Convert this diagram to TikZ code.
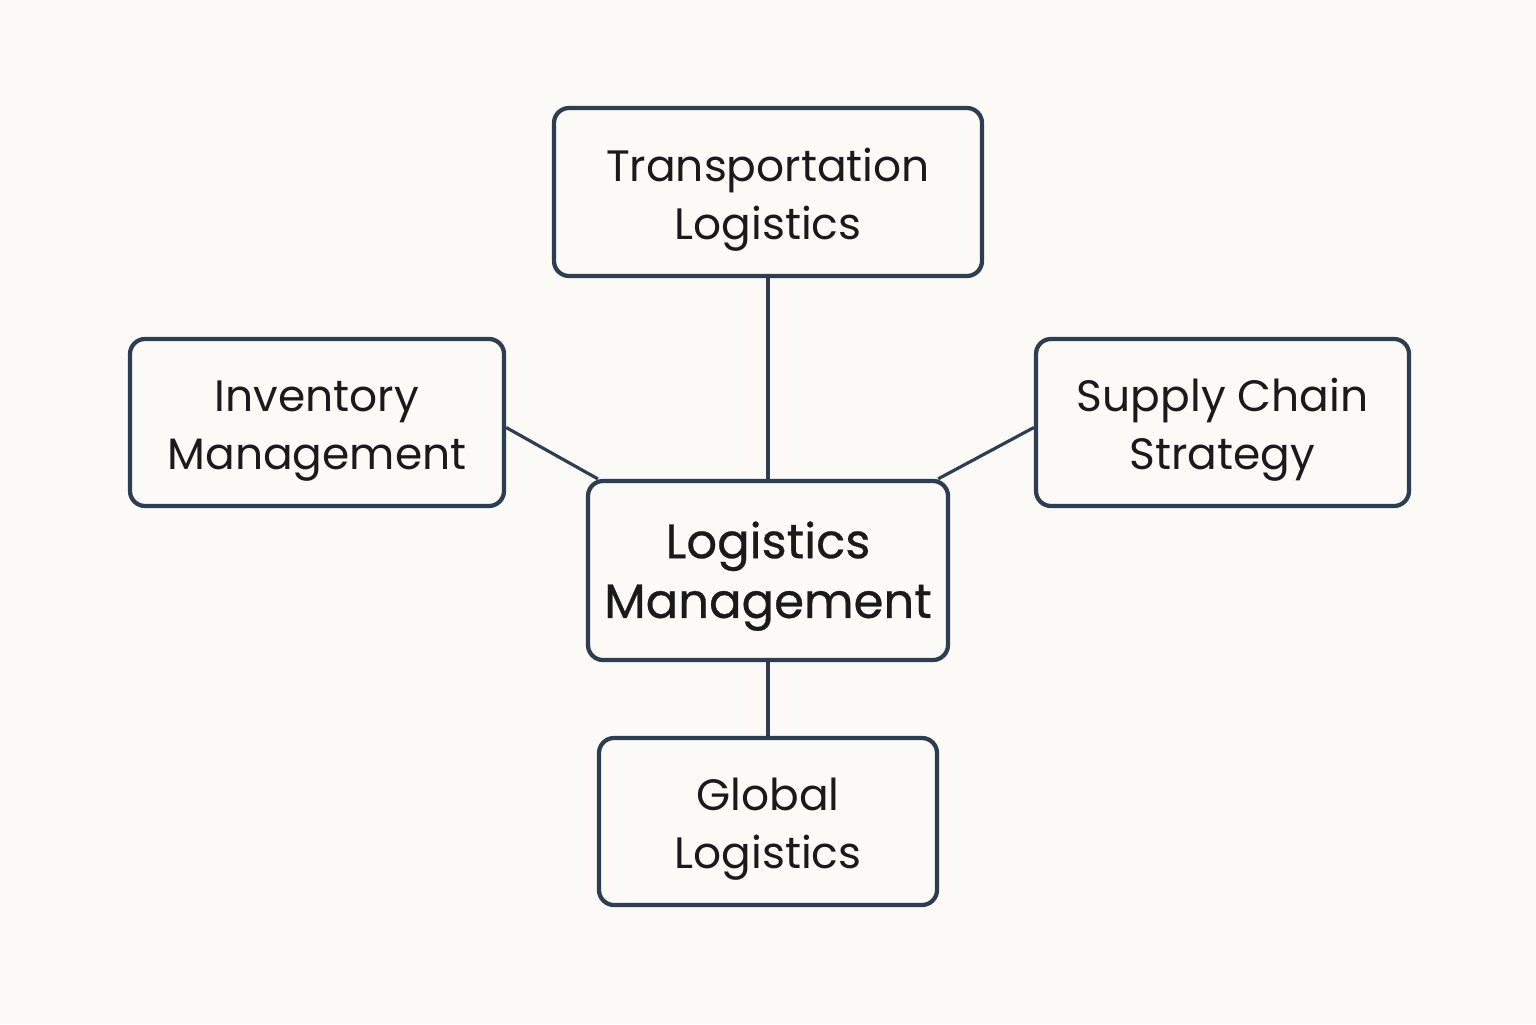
\documentclass[tikz,border=0pt]{standalone}
\usepackage{fontspec}
\setmainfont{Poppins}
\newfontfamily\medfont[FakeBold=0.6]{Poppins}
\usetikzlibrary{backgrounds}
\definecolor{edgeblue}{HTML}{2E3D4F}
\definecolor{paper}{HTML}{FBFAF7}
\definecolor{ink}{HTML}{1A1A1A}
\newcommand\topgap{\rule{0pt}{0.48cm}}
\begin{document}
\begin{tikzpicture}[
box/.style={draw=edgeblue, line width=1.2pt, rounded corners=0.15cm, fill=paper,
  align=center, inner sep=0pt, text=ink, font=\fontsize{12.5}{16.5}\selectfont},
link/.style={draw=edgeblue, line width=0.9pt}]
\useasboundingbox (0,0) rectangle (15.36,10.24);
    \node (Trans) [box, minimum width=4.28cm, minimum height=1.68cm] at (7.68,8.32) {\topgap Transportation\\Logistics};
    \node (Inv) [box, minimum width=3.74cm, minimum height=1.67cm] at (3.17,6.015) {\topgap Inventory\\Management};
    \node (Supply) [box, minimum width=3.73cm, minimum height=1.67cm] at (12.225,6.015) {\topgap Supply Chain\\Strategy};
    \node (Root) [box, minimum width=3.60cm, minimum height=1.79cm,
      font=\medfont\fontsize{13.7}{17}\selectfont] at (7.68,4.535) {\topgap Logistics\\Management};
    \node (Global) [box, minimum width=3.38cm, minimum height=1.67cm] at (7.68,2.025) {\topgap Global\\Logistics};
   % links sit behind the boxes
   \begin{scope}[on background layer]
     \fill[paper] (0,0) rectangle (15.36,10.24);
     \draw[link] (Trans.south) -- (Root.north);
     \draw[link] ([yshift=-0.05cm]Inv.east) -- ([xshift=0.12cm]Root.north west);
     \draw[link] ([yshift=-0.05cm]Supply.west) -- ([xshift=-0.12cm]Root.north east);
     \draw[link] (Root.south) -- (Global.north);
   \end{scope}
\end{tikzpicture}
\end{document}
